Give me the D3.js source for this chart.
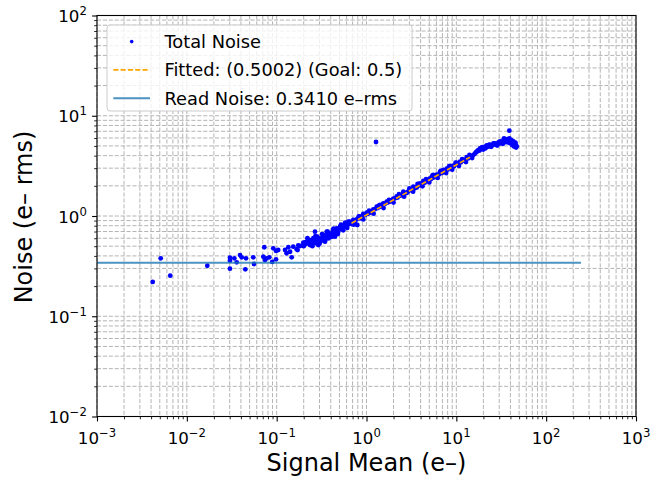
<!DOCTYPE html>
<html><head><meta charset="utf-8">
<script src="https://cdn.jsdelivr.net/npm/d3@7"></script>
<style>body{margin:0;background:#fff} text{font-family:"DejaVu Sans",sans-serif;fill:#000}</style>
</head><body><svg id="c" width="652" height="478"></svg>
<script>
const signalMean=[0.00417,0.00512,0.00654,0.0169,0.0302,0.0302,0.0302,0.0338,0.0359,0.0391,0.0408,0.0456,0.0448,0.0549,0.0559,0.0710,0.0728,0.0741,0.0774,0.0828,0.0893,0.0917,0.0984,0.104,0.0984,0.124,0.135,0.141,0.129,0.147,0.153,0.167,0.174,0.182,0.171,0.198,0.212,0.219,0.231,0.235,0.252,0.256,0.267,0.279,0.283,0.267,0.303,0.291,0.317,0.330,0.354,0.361,0.376,0.393,0.345,0.427,0.446,0.466,0.485,0.507,0.446,0.552,0.577,0.602,0.627,0.655,0.713,0.684,0.745,0.778,0.790,0.847,0.921,1.005,1.094,1.191,1.299,1.413,1.538,1.679,
1.827,1.988,2.167,2.360,2.569,2.803,3.048,3.319,3.622,3.945,4.290,4.677,5.093,5.543,6.04,6.58,7.16,7.81,8.51,9.25,10.09,10.99,11.96,13.04,14.19,15.45,16.86,17.57,18.34,19.15,19.95,20.84,21.78,22.66,23.68,24.73,25.78,26.93,28.12,29.31,30.62,31.99,33.34,34.83,36.39,37.93,38.90,39.63,41.40,41.69,43.15,43.95,45.08,46.24,1.276,
0.21,0.24,0.26,0.29,0.31,0.33,0.36,0.38,0.40,0.42,0.44,0.47,0.50,0.53,0.56,0.59,0.62,0.66,0.70,0.74,0.80,0.86,0.90,0.96,1.03,1.10,1.16,1.24,1.33,1.42,1.50,1.60,1.72,1.85,1.95,2.08,2.22,2.40,2.55,2.70,2.90,3.10,3.40,3.60,3.85,4.10,4.45,4.80,5.20,5.60,6.00,6.40,6.90,7.40,8.00,8.70,9.40,10.3,11.2,12.2,13.5,14.8,16.0,17.2,18.8,20.2,22.0,23.5,25.2,27.0,29.0,31.0,32.8,35.5,37.0,40.5,42.5,44.5,45.5,
0.65,0.72,0.82,0.92,1.07,1.20,1.37,1.55,1.78,2.00,2.30,2.62,3.00,3.30,3.70,4.20,4.60,5.00,5.40,6.20,6.70,7.70,8.30,9.00,9.80,10.7,11.6,12.8,14.0,15.0,16.5,18.0,19.5,21.0,23.0,24.5,26.0,28.5,30.0,33.0,34.0,36.0,38.0,39.0,41.0,43.0,44.0,46.0,47.0,
0.20,0.22,0.25,0.27,0.30,0.32,0.35,0.37,0.41,0.43,0.48,0.52,0.55,0.58,0.61];
const totalNoise=[0.220,0.378,0.254,0.319,0.384,0.358,0.298,0.378,0.345,0.408,0.387,0.378,0.294,0.387,0.332,0.393,0.488,0.364,0.378,0.387,0.348,0.476,0.448,0.458,0.370,0.458,0.488,0.440,0.425,0.387,0.494,0.466,0.510,0.502,0.458,0.542,0.526,0.554,0.576,0.514,0.567,0.600,0.534,0.554,0.622,0.697,0.576,0.514,0.600,0.646,0.622,0.697,0.672,0.622,0.554,0.725,0.672,0.754,0.697,0.782,0.622,0.795,0.845,0.813,0.877,0.857,0.912,0.832,0.877,0.927,0.813,0.984,1.047,1.079,1.104,1.166,1.238,1.288,1.339,1.389,
1.395,1.488,1.566,1.608,1.747,1.696,1.816,1.960,1.923,2.118,2.234,2.260,2.377,2.564,2.582,2.746,2.876,2.965,3.155,3.177,3.381,3.484,3.622,3.854,3.926,4.057,4.377,4.550,4.732,4.819,4.603,4.911,5.070,4.990,5.142,5.047,5.224,5.309,5.200,5.383,5.559,5.408,5.636,5.768,5.508,5.689,7.096,5.345,5.472,5.105,5.508,4.932,5.224,4.819,5.47,
0.55,0.53,0.58,0.60,0.56,0.61,0.64,0.60,0.66,0.70,0.68,0.71,0.74,0.76,0.78,0.80,0.82,0.84,0.88,0.90,0.94,0.95,1.00,1.02,1.05,1.08,1.12,1.17,1.20,1.24,1.28,1.32,1.36,1.41,1.45,1.50,1.53,1.60,1.66,1.70,1.75,1.82,1.88,1.95,2.02,2.08,2.15,2.24,2.33,2.42,2.50,2.60,2.68,2.78,2.90,3.02,3.12,3.28,3.42,3.56,3.75,3.95,4.18,4.45,4.62,4.75,4.88,4.95,5.10,5.15,5.25,5.30,5.50,5.45,5.85,5.65,5.30,5.05,5.40,
0.88,0.82,0.99,0.925,1.13,1.055,1.27,1.20,1.45,1.36,1.65,1.56,1.88,1.75,2.09,1.98,2.33,2.16,2.52,2.40,2.81,2.68,3.13,2.90,3.40,3.16,3.70,3.45,4.06,3.78,4.30,4.48,4.85,4.72,5.12,4.90,5.30,5.05,5.45,5.25,5.95,5.70,5.40,5.95,5.70,5.55,5.25,5.10,4.95,
0.50,0.60,0.50,0.63,0.53,0.66,0.58,0.70,0.62,0.75,0.66,0.82,0.72,0.86,0.76];
const fitX=[0.68,14.2];
const fitY=[0.845,3.86];
const readNoiseX=[0.001,244];
const readNoiseLevel=0.341;
const xTickExps=[-3,-2,-1,0,1,2,3];
const yTickExps=[-2,-1,0,1,2];
const legendLabels=["Total Noise","Fitted: (0.5002) (Goal: 0.5)","Read Noise: 0.3410 e–rms"];
const xLabel="Signal Mean (e–)";
const yLabel="Noise (e– rms)";

const L=97,R=636,T=15.5,B=416.5;
const x=d3.scaleLog().domain([1e-3,1e3]).range([L,R]);
const y=d3.scaleLog().domain([1e-2,1e2]).range([B,T]);
const svg=d3.select("#c");
const minorOf=(exps)=>{const a=[];for(let i=0;i<exps.length-1;i++)for(let k=2;k<=9;k++)a.push(k*Math.pow(10,exps[i]));return a;};
const xMaj=xTickExps.map(e=>Math.pow(10,e)), yMaj=yTickExps.map(e=>Math.pow(10,e));
const xMin=minorOf(xTickExps), yMin=minorOf(yTickExps);

// grid
const g=svg.append("g").attr("stroke","#b4b4b4").attr("stroke-width",1).attr("stroke-dasharray","4.1,1.8");
g.selectAll(".gx").data(xMaj.concat(xMin)).join("line").attr("x1",d=>x(d)).attr("x2",d=>x(d)).attr("y1",T).attr("y2",B);
g.selectAll(".gy").data(yMaj.concat(yMin)).join("line").attr("y1",d=>y(d)).attr("y2",d=>y(d)).attr("x1",L).attr("x2",R);

svg.append("clipPath").attr("id","clip").append("rect").attr("x",L).attr("y",T).attr("width",R-L).attr("height",B-T);
const plot=svg.append("g").attr("clip-path","url(#clip)");
plot.selectAll("circle").data(signalMean).join("circle").attr("cx",d=>x(d)).attr("cy",(d,i)=>y(totalNoise[i])).attr("r",2.4).attr("fill","#0000ff");
const line=d3.line().x(d=>x(d[0])).y(d=>y(d[1]));
plot.append("path").attr("d",line(fitX.map((v,i)=>[v,fitY[i]]))).attr("stroke","#ffa500").attr("stroke-width",1.7).attr("stroke-dasharray","5.1,2.2").attr("fill","none");
plot.append("path").attr("d",line(readNoiseX.map(v=>[v,readNoiseLevel]))).attr("stroke","#1f77b4").attr("stroke-opacity",0.8).attr("stroke-width",2).attr("fill","none");

// axes ticks
const ax=svg.append("g").attr("transform",`translate(0,${B})`);
ax.call(d3.axisBottom(x).tickValues(xMaj).tickSize(4.9).tickFormat(""));
const axm=svg.append("g").attr("transform",`translate(0,${B})`);
axm.call(d3.axisBottom(x).tickValues(xMin).tickSize(2.8).tickFormat(""));
const ay=svg.append("g").attr("transform",`translate(${L},0)`);
ay.call(d3.axisLeft(y).tickValues(yMaj).tickSize(4.9).tickFormat(""));
const aym=svg.append("g").attr("transform",`translate(${L},0)`);
aym.call(d3.axisLeft(y).tickValues(yMin).tickSize(2.8).tickFormat(""));
svg.selectAll(".domain").remove();
[ax,ay].forEach(a=>a.selectAll(".tick line").attr("stroke","#000").attr("stroke-width",1.1));
[axm,aym].forEach(a=>a.selectAll(".tick line").attr("stroke","#000").attr("stroke-width",0.85));
svg.append("rect").attr("x",L).attr("y",T).attr("width",R-L).attr("height",B-T).attr("fill","none").attr("stroke","#000").attr("stroke-width",1.1);

const sup=e=>(e<0?"\u2212":"")+Math.abs(e);
xTickExps.forEach(e=>{
  const t=svg.append("text").attr("x",x(Math.pow(10,e))).attr("y",B+27.8).attr("text-anchor","middle").attr("font-size",16.67);
  t.append("tspan").text("10");
  t.append("tspan").attr("dy",-7.5).attr("font-size",11.67).text(sup(e));
});
yTickExps.forEach(e=>{
  const t=svg.append("text").attr("x",86.8).attr("y",y(Math.pow(10,e))+6.7).attr("text-anchor","end").attr("font-size",16.67);
  t.append("tspan").text("10");
  t.append("tspan").attr("dy",-7).attr("font-size",11.67).text(sup(e));
});
svg.append("text").attr("x",(L+R)/2).attr("y",470.5).attr("text-anchor","middle").attr("font-size",24).text(xLabel);
svg.append("text").attr("transform",`translate(32,217) rotate(-90)`).attr("text-anchor","middle").attr("font-size",24).text(yLabel);

// legend
const lg=svg.append("g");
lg.append("rect").attr("x",107).attr("y",25).attr("width",305).attr("height",86).attr("rx",3).attr("fill","#fff").attr("fill-opacity",0.8).attr("stroke","#cccccc").attr("stroke-width",1);
legendLabels.forEach((lab,i)=>{
  const by=47.9+28.3*i, hy=by-6.3;
  if(i===0) lg.append("circle").attr("cx",131.7).attr("cy",hy).attr("r",1.8).attr("fill","#0000ff");
  if(i===1) lg.append("line").attr("x1",113.3).attr("x2",150).attr("y1",hy).attr("y2",hy).attr("stroke","#ffa500").attr("stroke-width",1.7).attr("stroke-dasharray","5.1,2.2");
  if(i===2) lg.append("line").attr("x1",113.3).attr("x2",150).attr("y1",hy).attr("y2",hy).attr("stroke","#1f77b4").attr("stroke-opacity",0.8).attr("stroke-width",2);
  lg.append("text").attr("x",164.5).attr("y",by).attr("font-size",17.8).text(lab);
});
</script></body></html>
